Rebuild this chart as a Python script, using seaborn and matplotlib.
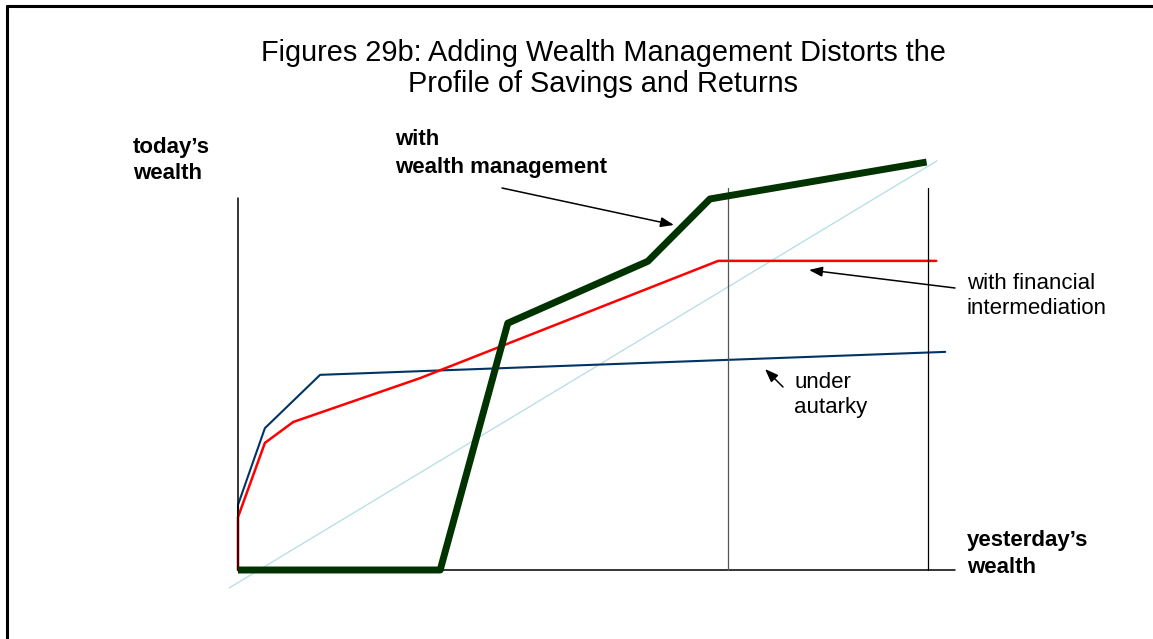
"""Schematic: wealth management distorts the profile of savings and returns."""

import matplotlib

matplotlib.use("Agg")
import matplotlib.pyplot as plt
import pandas as pd
import seaborn as sns
from matplotlib.lines import Line2D

# yesterday's wealth (x) -> today's wealth (y), in schematic units
wm_x = [0.0, 2.93, 3.91, 5.94, 6.84, 9.98]
wm_y = [0.0, 0.0, 6.02, 7.53, 9.05, 9.95]

fin_x = [0.0, 0.0, 0.39, 0.80, 2.64, 6.96, 10.12]
fin_y = [0.0, 1.29, 3.10, 3.61, 4.68, 7.54, 7.54]

aut_x = [0.0, 0.0, 0.39, 1.19, 10.25]
aut_y = [0.0, 1.59, 3.46, 4.76, 5.32]

diag_x = [-0.13, 10.13]
diag_y = [-0.44, 9.98]

guide_x = [7.10, 10.0]
guide_top = 9.32
yaxis_top = 9.07
xaxis_end = 10.39

sns.set_style("white")
plt.rcParams["font.family"] = ["Liberation Sans", "DejaVu Sans"]
plt.rcParams["text.color"] = "black"

W, H = 1153, 639
fig = plt.figure(figsize=(W / 100, H / 100), dpi=100)
ax = fig.add_axes([0, 0, 1, 1])

# pixel -> data mapping of the canvas
x0, sx = 238, 69.0
y0, sy = 570, 41.0
ax.set_xlim((0 - x0) / sx, (W - x0) / sx)
ax.set_ylim((y0 - H) / sy, y0 / sy)
ax.axis("off")


def px(x, y):
    return ((x - x0) / sx, (y0 - y) / sy)


# 45-degree reference line
sns.lineplot(x=diag_x, y=diag_y, color="#b4dde4", lw=0.9, ax=ax,
             estimator=None, sort=False)

df_aut = pd.DataFrame({"x": aut_x, "y": aut_y})
df_fin = pd.DataFrame({"x": fin_x, "y": fin_y})
df_wm = pd.DataFrame({"x": wm_x, "y": wm_y})
sns.lineplot(data=df_aut, x="x", y="y", color="#003366", lw=1.5, ax=ax,
             estimator=None, sort=False)
sns.lineplot(data=df_fin, x="x", y="y", color="#ff0000", lw=1.8, ax=ax,
             estimator=None, sort=False)

# axes and guides
ax.plot([0, 0], [0, yaxis_top], color="black", lw=1.1)
ax.plot([0, xaxis_end], [0, 0], color="black", lw=1.1)
ax.plot([guide_x[0]] * 2, [0, guide_top], color="#555555", lw=0.9)
ax.plot([guide_x[1]] * 2, [0, guide_top], color="black", lw=0.9)

sns.lineplot(data=df_wm, x="x", y="y", color="#003300", lw=5, ax=ax,
             estimator=None, sort=False, solid_capstyle="butt")

# title (baseline given for the last line)
ax.text(*px(603, 92), "Figures 29b: Adding Wealth Management Distorts the\n"
        "Profile of Savings and Returns", ha="center", va="baseline",
        fontsize=20.8, linespacing=1.13, multialignment="center")

fs = 16
ax.text(*px(133, 179), "today\u2019s\nwealth", fontsize=fs, weight="bold",
        va="baseline", linespacing=1.33)
ax.text(*px(395, 173), "with\nwealth management", fontsize=fs, weight="bold",
        va="baseline", linespacing=1.43)
ax.text(*px(967, 314), "with financial\nintermediation", fontsize=fs,
        va="baseline", linespacing=1.28)
ax.text(*px(794, 413), "under\nautarky", fontsize=fs, va="baseline",
        linespacing=1.28)
ax.text(*px(967, 573), "yesterday\u2019s\nwealth", fontsize=fs, weight="bold",
        va="baseline", linespacing=1.38)

arrow = dict(arrowstyle="-|>,head_length=0.8,head_width=0.3",
             color="black", lw=1.1, mutation_scale=10,
             shrinkA=0, shrinkB=0)
ax.annotate("", xy=px(674, 225), xytext=px(502, 188), arrowprops=arrow)
ax.annotate("", xy=px(809, 270), xytext=px(955, 288), arrowprops=arrow)
ax.annotate("", xy=px(765, 369), xytext=px(783, 387), arrowprops=arrow)

# frame (top and left edges)
fig.add_artist(Line2D([7 / W, 1], [1 - 6 / H] * 2, color="black", lw=2.2,
                      transform=fig.transFigure))
fig.add_artist(Line2D([7 / W] * 2, [0, 1 - 6 / H], color="black", lw=2.2,
                      transform=fig.transFigure))

fig.savefig("out.png", dpi=100)
